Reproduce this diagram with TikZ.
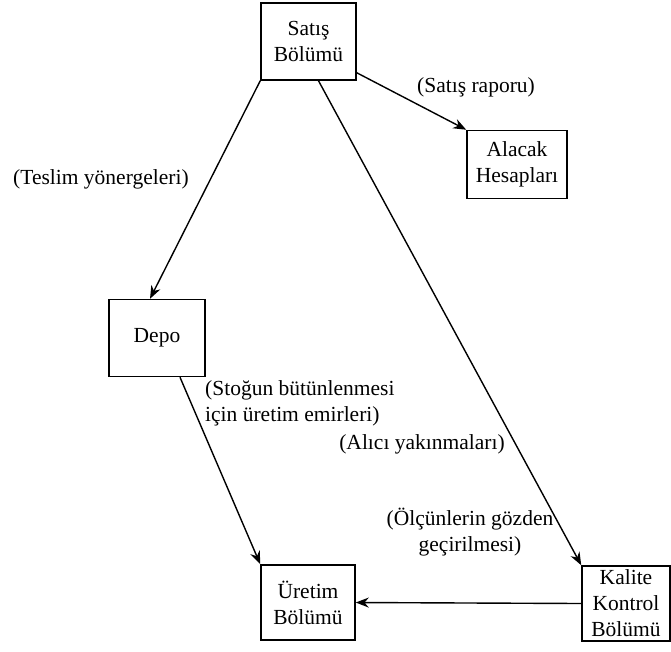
\documentclass[tikz,border=0pt]{standalone}
\usepackage{fontspec}
\setmainfont{Liberation Serif}
\usetikzlibrary{arrows.meta,calc}
\begin{document}
\begin{tikzpicture}[x=1pt,y=-1pt,
  unit/.style={draw,line width=1.5pt,align=center,inner sep=0pt,
    font=\fontsize{21.5}{26}\selectfont},
  lbl/.style={font=\fontsize{21.5}{26.5}\selectfont,inner sep=0pt},
  flow/.style={line width=1.4pt,-{Stealth[length=13pt,width=10pt]}}]
\useasboundingbox (0,0) rectangle (671,651);
% departments
\node[unit,minimum width=95pt,minimum height=77pt] (satis) at (308.5,41.5) {Satış\\Bölümü};
\node[unit,minimum width=100pt,minimum height=68pt] (alacak) at (517,164.5) {Alacak\\Hesapları};
\node[unit,minimum width=96pt,minimum height=77pt] (depo) at (157,338) {Depo};
\node[unit,minimum width=94pt,minimum height=75pt] (uretim) at (308,602.5) {Üretim\\Bölümü};
\node[unit,minimum width=88pt,minimum height=75pt] (kalite) at (626,603.5) {Kalite\\Kontrol\\Bölümü};
% connector end points on the box edges
\coordinate (s1) at ($(satis.south east)+(0,-8)$);
\coordinate (s2) at ($(satis.south)+(10,0)$);
\coordinate (d1) at ($(depo.north)+(-7,0)$);
\coordinate (d2) at ($(depo.south)+(23,0)$);
% flows
\draw[flow] (satis.south west) -- (d1);
\draw[flow] (s1) -- (alacak.north west);
\draw[flow] (s2) -- (kalite.north west);
\draw[flow] (d2) -- (uretim.north west);
\draw[flow] (kalite.west) -- (uretim.east);
% flow labels
\node[lbl,anchor=base] (l1) at (476,92) {(Satış raporu)};
\node[lbl,anchor=base west] (l2) at (13,184) {(Teslim yönergeleri)};
\node[lbl,anchor=west,align=left] (l3) at (205,403.5) {(Stoğun bütünlenmesi\\için üretim emirleri)};
\node[lbl,anchor=base] (l4) at (422,449) {(Alıcı yakınmaları)};
\node[lbl,align=center] (l5) at (470,532) {(Ölçünlerin gözden\\geçirilmesi)};
\end{tikzpicture}
\end{document}
